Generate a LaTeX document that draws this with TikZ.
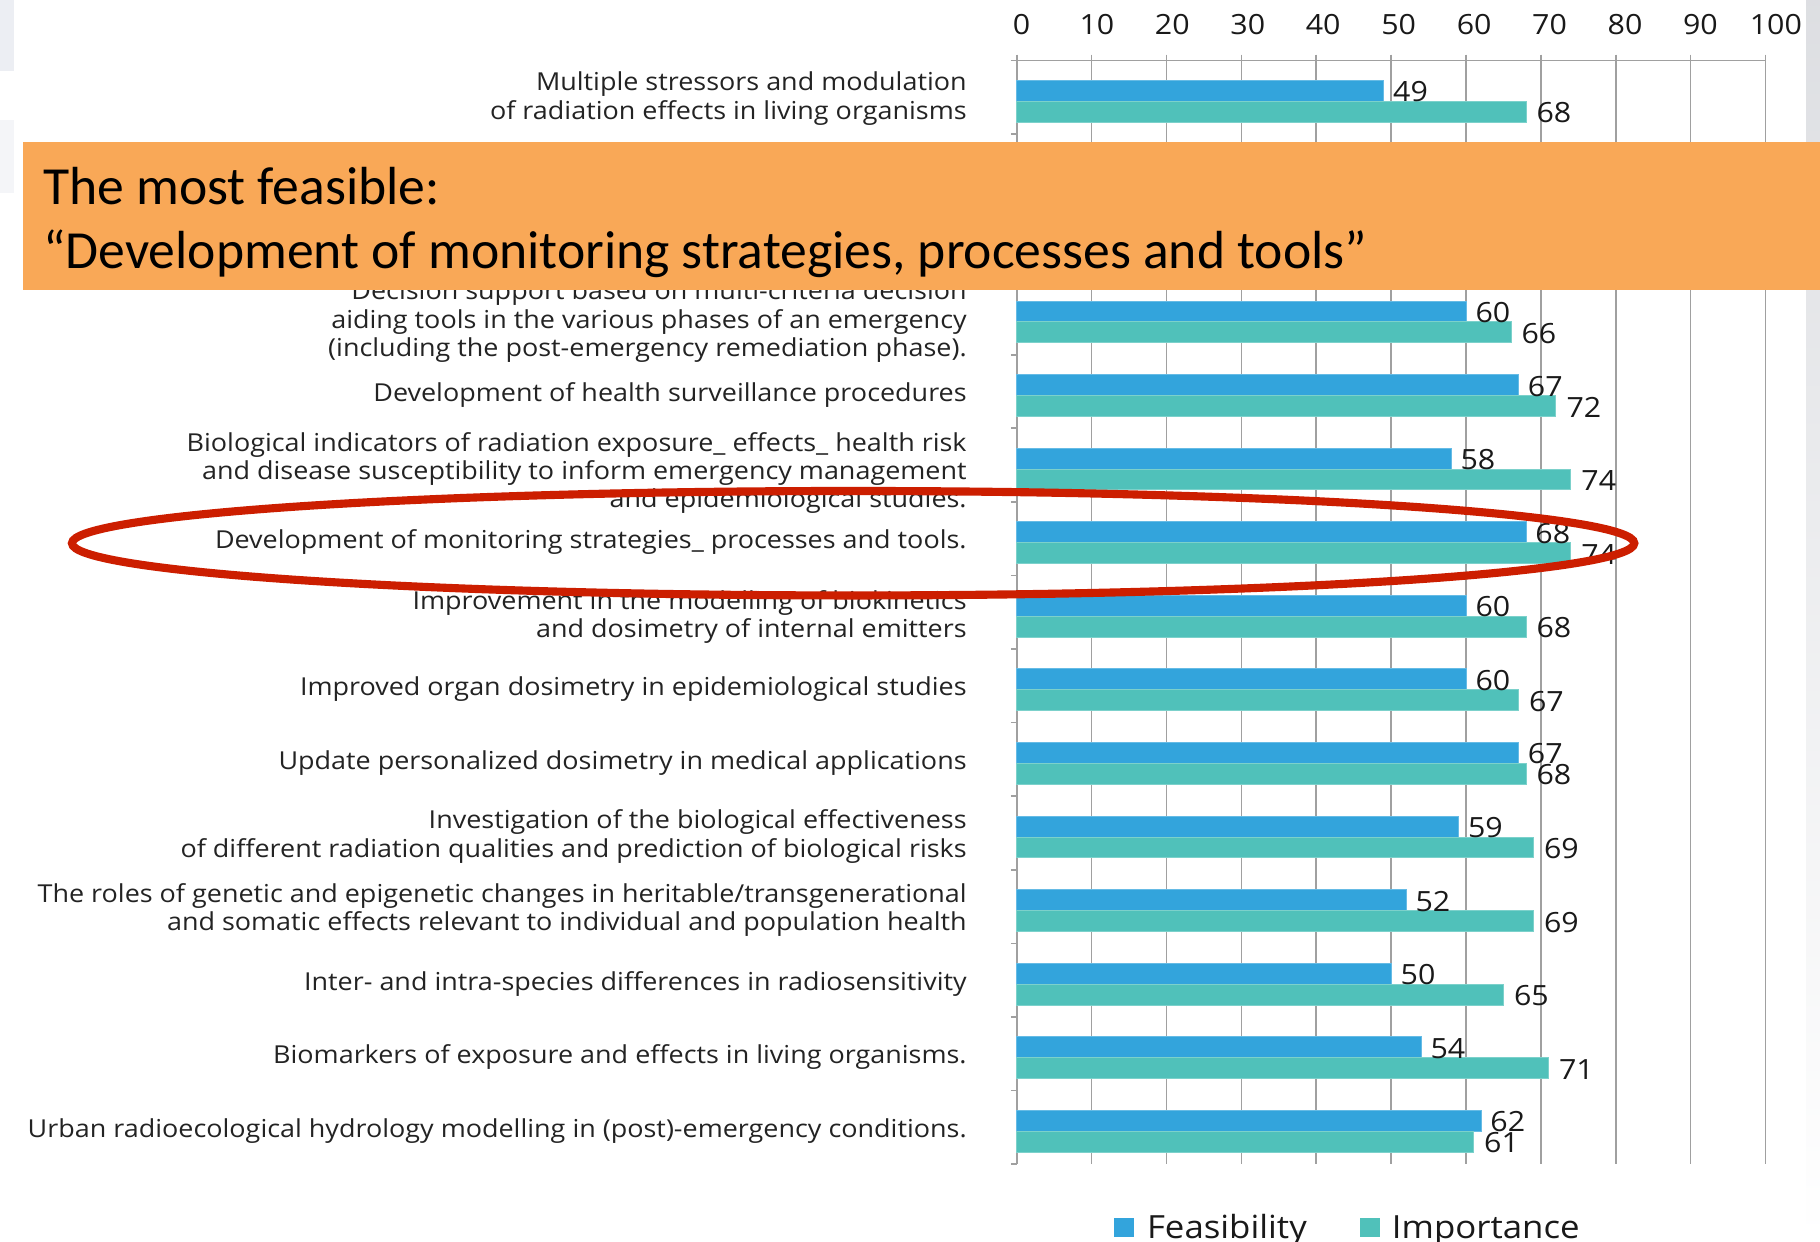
\documentclass[tikz,border=0pt]{standalone}
\usepackage{fontspec}
\setmainfont{Open Sans}
\newfontfamily\chartfont[FakeStretch=1.09]{Open Sans}
\newfontfamily\boxfont{Carlito}
\definecolor{feas}{RGB}{51,164,220}
\definecolor{imp}{RGB}{80,193,186}
\definecolor{gridc}{RGB}{160,160,160}
\definecolor{boxc}{RGB}{249,168,87}
\definecolor{ringc}{RGB}{204,30,0}
\definecolor{txt}{RGB}{35,35,35}
\definecolor{stripa}{RGB}{236,238,243}
\definecolor{stripb}{RGB}{244,245,248}
\begin{document}
\begin{tikzpicture}[x=1pt,y=-1pt,
  gridline/.style={gridc,line width=1.4pt},
  catlabel/.style={anchor=east,inner sep=0pt,align=right,text=txt,font=\chartfont\fontsize{21.3}{24.5}\selectfont},
  ticklabel/.style={inner sep=0pt,text=black!90,font=\chartfont\fontsize{24}{26}\selectfont},
  vallabel/.style={anchor=west,inner sep=0pt,text=black!90,font=\chartfont\fontsize{24}{26}\selectfont},
  feasbar/.style={fill=feas,draw=feas!75!white,line width=0.6pt},
  impbar/.style={fill=imp,draw=imp!75!white,line width=0.6pt},
  legtext/.style={anchor=base west,inner sep=0pt,text=black!90,font=\chartfont\fontsize{27.5}{30}\selectfont},
  boxtext/.style={anchor=base west,inner sep=0pt,text=black,font=\boxfont\fontsize{46.2}{50}\selectfont}]
\useasboundingbox (0,0) rectangle (1568,1070);
\fill[white] (0,0) rectangle (1568,1070);
% edge strips
\fill[stripa] (0,0) rectangle (12,61);
\fill[stripb] (0,103) rectangle (12,166);
\shade[top color=stripa!90!black!80, bottom color=white] (1556,0) rectangle (1568,1070);
% grid
\foreach \k in {0,...,10}{
  \pgfmathsetmacro\gx{876+64.5*\k}
  \pgfmathtruncatemacro\gv{10*\k}
  \draw[gridline] (\gx,47) -- (\gx,1003);
  \node[ticklabel] (tick\k) at (\gx+4+0.5*\k,21) {\gv};
}
\draw[gridline] (871,52) -- (1521,52);
\foreach \r in {0,...,15}{
  \draw[gridline] (871,52+63.4*\r) -- (876,52+63.4*\r);
}
% bars
\foreach \r/\f/\m in {0/49/68,3/60/66,4/67/72,5/58/74,6/68/74,7/60/68,8/60/67,9/67/68,10/59/69,11/52/69,12/50/65,13/54/71,14/62/61}{
  \pgfmathsetmacro\yt{52+63.4*\r+17}
  \fill[feasbar] (876,\yt) rectangle (876+6.45*\f,\yt+18);
  \fill[impbar] (876,\yt+18) rectangle (876+6.45*\m,\yt+36);
  \node[vallabel] (fv\r) at (876+6.45*\f+8,\yt+10) {\f};
  \node[vallabel] (mv\r) at (876+6.45*\m+9,\yt+28) {\m};
}
% category labels
\node[catlabel] (c0) at (833,52+63.4*0+33) {Multiple stressors and modulation\\of radiation effects in living organisms};
\node[catlabel] (c3) at (833,52+63.4*3+35) {Decision support based on multi-criteria decision\\aiding tools in the various phases of an emergency\\(including the post-emergency remediation phase).};
\node[catlabel] (c4) at (833,52+63.4*4+34.7) {Development of health surveillance procedures};
\node[catlabel] (c5) at (833,52+63.4*5+38.5) {Biological indicators of radiation exposure\_ effects\_ health risk\\and disease susceptibility to inform emergency management\\and epidemiological studies.};
\node[catlabel] (c6) at (833,52+63.4*6+34.7) {Development of monitoring strategies\_ processes and tools.};
\node[catlabel] (c7) at (833,52+63.4*7+36) {Improvement in the modelling of biokinetics\\and dosimetry of internal emitters};
\node[catlabel] (c8) at (833,52+63.4*8+34.7) {Improved organ dosimetry in epidemiological studies};
\node[catlabel] (c9) at (833,52+63.4*9+34.7) {Update personalized dosimetry in medical applications};
\node[catlabel] (c10) at (833,52+63.4*10+34.7) {Investigation of the biological effectiveness\\of different radiation qualities and prediction of biological risks};
\node[catlabel] (c11) at (833,52+63.4*11+34.7) {The roles of genetic and epigenetic changes in heritable/transgenerational\\and somatic effects relevant to individual and population health};
\node[catlabel] (c12) at (833,52+63.4*12+34.7) {Inter- and intra-species differences in radiosensitivity};
\node[catlabel] (c13) at (833,52+63.4*13+34.7) {Biomarkers of exposure and effects in living organisms.};
\node[catlabel] (c14) at (833,52+63.4*14+34.7) {Urban radioecological hydrology modelling in (post)-emergency conditions.};
% legend
\fill[feas] (960,1049) rectangle (977,1066);
\node[legtext] (lf) at (988,1067) {Feasibility};
\fill[imp] (1172,1049) rectangle (1189,1066);
\node[legtext] (li) at (1199,1067) {Importance};
% highlight ring
\draw[ringc,line width=7pt] (735,468) ellipse [x radius=673,y radius=45];
% callout box
\fill[boxc] (20,122) rectangle (1568,250);
\node[boxtext] (b1) at (37,176) {The most feasible:};
\node[boxtext] (b2) at (37,231) {“Development of monitoring strategies, processes and tools”};
\end{tikzpicture}
\end{document}
